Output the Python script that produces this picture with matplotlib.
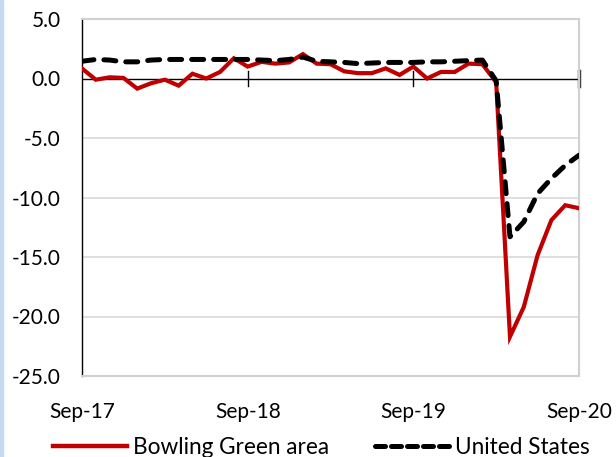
import matplotlib
matplotlib.use("Agg")
import matplotlib.pyplot as plt
from matplotlib.lines import Line2D
import numpy as np

months = list(range(37))  # Sep-17 .. Sep-20
tick_pos = [0, 12, 24, 36]
tick_labels = ["Sep-17", "Sep-18", "Sep-19", "Sep-20"]
y_ticks = [5, 0, -5, -10, -15, -20, -25]

bowling_green = [0.84, -0.1, 0.1, 0.05, -0.85, -0.4, -0.1, -0.6, 0.4, 0.0, 0.55, 1.7,
                 1.0, 1.4, 1.25, 1.35, 2.05, 1.25, 1.2, 0.6, 0.45, 0.45, 0.85, 0.3,
                 1.0, 0.0, 0.55, 0.55, 1.25, 1.2, -0.3, -21.7, -19.2, -14.85, -11.9, -10.65,
                 -10.9]
united_states = [1.45, 1.6, 1.55, 1.4, 1.4, 1.55, 1.6, 1.6, 1.6, 1.6, 1.6, 1.6,
                 1.6, 1.55, 1.5, 1.6, 1.8, 1.45, 1.4, 1.35, 1.25, 1.3, 1.35, 1.35,
                 1.35, 1.4, 1.4, 1.45, 1.5, 1.55, -0.2, -13.3, -12.05, -9.67, -8.4, -7.3,
                 -6.45]

plt.rcParams['font.family'] = ['Lato', 'DejaVu Sans']

US_DASH = (2.4, 2.0)

fig = plt.figure(figsize=(6.16, 4.57), dpi=100)
fig.patches.append(plt.Rectangle((0, 0), 3/616, 1, transform=fig.transFigure,
                                 color='#c5d9f1', zorder=0))
ax = fig.add_axes([82/616, 1 - 376/457, (579 - 82)/616, (376 - 19)/457])

ax.set_xlim(0, 36)
ax.set_ylim(-25, 5)

for y in [-5, -10, -15, -20]:
    ax.axhline(y, color='#d9d9d9', lw=1.2, zorder=1)

ax.plot(months, bowling_green, color='#c00000', lw=3.0, zorder=3,
        solid_joinstyle='miter')
ax.plot(months, united_states, color='black', lw=3.6, zorder=4,
        dashes=US_DASH, dash_capstyle='round')

# x axis at zero
ax.axhline(0, color='black', lw=1.0, zorder=2)
for t in tick_pos[1:3]:
    ax.plot([t, t], [-0.62, 0.62], color='black', lw=1.0, zorder=2, clip_on=False)
ax.plot([36, 36], [-0.62, 0.62], color='#404040', lw=2.5, zorder=2, clip_on=False)

for side in ['top', 'right', 'bottom']:
    ax.spines[side].set_color('#d0d0d0')
    ax.spines[side].set_linewidth(1.5)
ax.spines['left'].set_color('black')
ax.spines['left'].set_linewidth(1.0)

ax.set_yticks(y_ticks)
ax.set_yticklabels([f"{v:.1f}" for v in y_ticks], fontsize=15)
ax.tick_params(axis='y', length=0, pad=15.5)
ax.set_xticks(tick_pos)
ax.set_xticklabels(tick_labels, fontsize=15)
ax.tick_params(axis='x', length=0, pad=19)

handles = [Line2D([0], [0], color='#c00000', lw=3.2),
           Line2D([0], [0], color='black', lw=3.6, dashes=(2.0, 1.2), dash_capstyle='round')]
fig.legend(handles, ["Bowling Green area", "United States"], loc='center',
           bbox_to_anchor=(321.5/616, 1 - 447/457), ncol=2, frameon=False, fontsize=16.3,
           handlelength=3.27, columnspacing=2.03, handletextpad=0.27,
           borderpad=0, borderaxespad=0)

fig.savefig("out.png", dpi=100)
